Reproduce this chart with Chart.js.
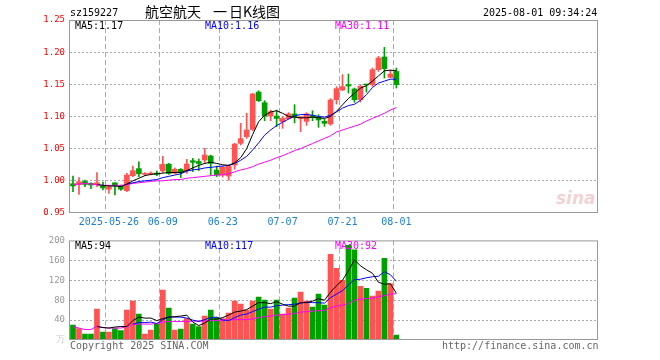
<!DOCTYPE html>
<html><head><meta charset="utf-8">
<script src="https://cdn.jsdelivr.net/npm/chart.js@4.4.1/dist/chart.umd.min.js"></script>
<style>
body{margin:0;background:#fff;}
#wrap{position:relative;width:660px;height:360px;overflow:hidden;background:#fff;}
canvas{position:absolute;left:0;}
.t{position:absolute;font-family:'DejaVu Sans Mono',monospace;font-size:10px;line-height:10px;white-space:pre;}
.cjk{position:absolute;font-family:'Noto Sans CJK SC',sans-serif;font-size:14px;line-height:14px;white-space:pre;color:#000;}
.logo{position:absolute;font-family:'DejaVu Sans',sans-serif;font-style:italic;font-weight:bold;font-size:17px;line-height:17px;color:#f2d2d2;}
</style></head><body>
<div id="wrap">
<canvas id="kc" width="660" height="230" style="top:0"></canvas>
<canvas id="vc" width="660" height="130" style="top:230px"></canvas>
<div class="t" style="left:70px;top:8px;color:#000">sz159227</div>
<div class="cjk" style="left:145px;top:4px">航空航天</div>
<div class="cjk" style="left:213px;top:4px">一</div>
<div class="cjk" style="left:229px;top:4px">日K线图</div>
<div class="t" style="left:483px;top:8px;color:#000">2025-08-01 09:34:24</div>
<div class="t" style="left:75px;top:21px;color:#000">MA5:1.17</div>
<div class="t" style="left:205px;top:21px;color:#0000ff">MA10:1.16</div>
<div class="t" style="left:335px;top:21px;color:#ff00ff">MA30:1.11</div>
<div class="logo" style="left:556px;top:190px">sina</div>
<div class="t" style="left:75px;top:241px;color:#000">MA5:94</div>
<div class="t" style="left:205px;top:241px;color:#0000ff">MA10:117</div>
<div class="t" style="left:335px;top:241px;color:#ff00ff">MA30:92</div>
<div class="t" style="left:70px;top:341px;color:#666">Copyright 2025 SINA.COM</div>
<div class="t" style="left:442px;top:341px;color:#666">http://finance.sina.com.cn</div>
</div>
<script>
const dates = ['05-16','05-19','05-20','05-21','05-22','05-23','05-26','05-27','05-28','05-29','05-30',
 '06-03','06-04','06-05','06-06','06-09','06-10','06-11','06-12','06-13','06-16','06-17','06-18','06-19','06-20',
 '06-23','06-24','06-25','06-26','06-27','06-30','07-01','07-02','07-03','07-04','07-07','07-08','07-09','07-10','07-11',
 '07-14','07-15','07-16','07-17','07-18','07-21','07-22','07-23','07-24','07-25','07-28','07-29','07-30','07-31','08-01'];
const tickLabels = ['2025-05-26','06-09','06-23','07-07','07-21','08-01'];
const openP  = [0.9955,0.994,0.999,0.996,0.994,0.992,0.987,0.997,0.992,0.9847,1.008,1.019,1.010,1.0105,1.012,1.0155,1.026,1.012,1.018,1.0158,
 1.0313,1.030,1.0324,1.0386,1.0168,1.009,1.0075,1.0246,1.0583,1.0686,1.08,1.138,1.1215,1.1008,1.1008,1.0919,1.0966,1.104,1.097,1.0925,
 1.1015,1.0998,1.0925,1.0884,1.1262,1.1412,1.1495,1.1428,1.1262,1.150,1.1495,1.1728,1.1925,1.1609,1.170];
const closeP = [0.992,0.9987,0.9945,0.9935,0.997,0.989,0.991,0.992,0.987,1.009,1.0158,1.011,1.0115,1.012,1.010,1.0255,1.0115,1.018,1.013,1.0262,
 1.0288,1.027,1.0401,1.0272,1.009,1.021,1.023,1.0572,1.0655,1.079,1.135,1.1246,1.1008,1.1075,1.097,1.097,1.104,1.0987,1.099,1.104,
 1.0987,1.0946,1.0894,1.1257,1.1433,1.1464,1.1474,1.1262,1.1469,1.149,1.1728,1.191,1.1744,1.1661,1.1495];
const highP  = [1.0075,1.0049,1.001,0.997,1.0127,0.998,0.993,0.997,0.9935,1.0116,1.023,1.0297,1.013,1.014,1.015,1.038,1.027,1.020,1.019,1.0334,
 1.035,1.034,1.0505,1.04,1.023,1.023,1.025,1.0583,1.0894,1.1049,1.136,1.140,1.1246,1.110,1.110,1.0997,1.106,1.1184,1.100,1.106,
 1.109,1.1029,1.0956,1.1277,1.1464,1.165,1.166,1.1443,1.1495,1.150,1.1754,1.1935,1.2075,1.1723,1.1754];
const lowP   = [0.983,0.979,0.991,0.988,0.991,0.9857,0.9805,0.978,0.985,0.983,1.0065,1.0065,1.008,1.009,1.008,1.013,1.010,1.011,1.005,1.0117,
 1.0143,1.016,1.0272,1.009,1.0065,1.006,1.001,1.018,1.0557,1.066,1.078,1.123,1.0935,1.0935,1.0842,1.0816,1.096,1.090,1.0765,1.0863,
 1.0935,1.0832,1.0847,1.0863,1.1194,1.1402,1.1365,1.122,1.1225,1.138,1.1469,1.170,1.1598,1.160,1.1443];
const ma5P  = [null,null,null,null,0.994,0.993,0.992,0.992,0.991,0.995,1.000,1.004,1.008,1.010,1.011,1.012,1.013,1.013,1.013,1.016,
 1.020,1.024,1.027,1.029,1.027,1.025,1.024,1.028,1.036,1.050,1.072,1.092,1.102,1.107,1.109,1.105,1.100,1.099,1.098,1.098,
 1.099,1.098,1.097,1.100,1.108,1.118,1.128,1.136,1.144,1.148,1.155,1.163,1.171,1.172,1.171];
const ma10P = [null,null,null,null,null,null,null,null,null,0.995,0.997,0.999,1.000,1.001,1.002,1.005,1.007,1.009,1.011,1.015,
 1.017,1.018,1.020,1.021,1.022,1.023,1.024,1.027,1.032,1.038,1.048,1.059,1.071,1.079,1.086,1.091,1.096,1.101,1.103,1.103,
 1.102,1.100,1.099,1.102,1.107,1.113,1.117,1.119,1.125,1.134,1.145,1.152,1.155,1.158,1.158];
const ma30P = [0.994,0.995,0.996,0.995,0.994,0.993,0.993,0.993,0.993,0.994,0.996,0.997,0.998,0.999,1.000,1.000,1.001,1.002,1.002,1.004,
 1.005,1.006,1.007,1.008,1.009,1.0095,1.011,1.014,1.017,1.019,1.022,1.026,1.029,1.032,1.036,1.039,1.043,1.047,1.050,1.054,
 1.058,1.062,1.066,1.070,1.076,1.079,1.082,1.085,1.088,1.093,1.097,1.101,1.105,1.110,1.114];
const volume = [30,23,12,12,62,16,16,23,19,60,78,52,12,20,32,100,64,20,22,43,32,27,48,60,45,43,54,78,72,60,78,86,80,62,80,52,64,84,96,78,
 66,92,70,172,144,120,190,181,108,104,88,98,164,113,10];
const ma5V  = [null,null,null,null,27,25,24,26,27,27,39,46,44,44,39,43,46,47,48,50,36,29,34,42,42,45,50,56,58,61,68,75,75,73,77,72,68,68,75,75,
 78,83,80,96,109,120,139,161,149,141,134,116,112,113,94];
const ma10V = [null,null,null,null,null,null,null,null,null,null,32,35,35,36,33,41,46,46,46,44,40,37,41,45,46,40,39,45,50,52,57,62,66,66,69,70,71,72,74,76,
 75,75,74,85,92,99,111,121,122,125,127,128,137,131,118];
const ma30V = [27,24,21,21,28,25,24,24,24,27,31,32,32,32,33,36,37,37,37,37,38,38,38,39,39,40,40,41,41,41,42,45,47,48,50,51,52,53,56,57,
 58,59,59,65,68,70,73,80,82,83,84,87,89,92,93];

const SLOTS = 88;
const RED = '#ff5252', GREEN = '#00a000';
const FONT = 'DejaVu Sans Mono';
const labels = Array.from({length: SLOTS}, (_, i) => i < dates.length ? dates[i] : '');
const tickText = i => {
  if (i >= dates.length) return '';
  const t = tickLabels.find(s => s.endsWith(dates[i]));
  return t || '';
};
const upColor = ctx => closeP[ctx.dataIndex] >= openP[ctx.dataIndex] ? RED : GREEN;
const bodies = openP.map((o, i) => [o, closeP[i]]);
const wicks = lowP.map((l, i) => [l, highP[i]]);

const framePlugin = {
  id: 'frame',
  afterDraw(chart) {
    const a = chart.chartArea, c = chart.ctx;
    c.save();
    c.strokeStyle = '#999'; c.lineWidth = 1;
    c.strokeRect(a.left - 0.5, a.top + 0.5, a.right - a.left + 1, a.bottom - a.top - 1);
    c.restore();
  }
};
const vGrid = ctx => (tickText(ctx.index) ? '#aaa' : 'rgba(0,0,0,0)');
const lineDs = (data, color) => ({type: 'line', data, borderColor: color, borderWidth: 1, pointRadius: 0, tension: 0, order: 0, spanGaps: false});

Chart.defaults.animation = false;

new Chart(document.getElementById('kc'), {
  type: 'bar',
  data: {
    labels,
    datasets: [
      lineDs(ma5P, '#000000'), lineDs(ma10P, '#0000ff'), lineDs(ma30P, '#ff00ff'),
      {type: 'bar', data: bodies, backgroundColor: upColor, barThickness: 5, grouped: false, minBarLength: 1, order: 1, borderWidth: 0},
      {type: 'bar', data: wicks, backgroundColor: upColor, barThickness: 1, grouped: false, minBarLength: 1, order: 2, borderWidth: 0}
    ]
  },
  options: {
    responsive: false, animation: false, devicePixelRatio: 1,
    layout: {padding: {left: 0, right: 63, top: 20, bottom: 0}},
    plugins: {legend: {display: false}, tooltip: {enabled: false}},
    scales: {
      x: {
        offset: true,
        grid: {offset: true, drawTicks: false, color: vGrid},
        border: {display: false, dash: [5, 3]},
        ticks: {autoSkip: false, maxRotation: 0, minRotation: 0, padding: 3, color: '#1b7fd4',
          font: {family: FONT, size: 10}, callback: (v, i) => tickText(i)},
        afterFit: s => { s.height = 17; }
      },
      y: {
        min: 0.95, max: 1.25,
        grid: {drawTicks: false, color: ctx => (ctx.index === 0 || ctx.index === 6) ? 'rgba(0,0,0,0)' : '#aaa'},
        border: {display: false, dash: [2, 2]},
        ticks: {stepSize: 0.05, padding: 5, color: '#ff0000', font: {family: FONT, size: 9}, callback: v => v.toFixed(2)},
        afterFit: s => { s.width = 70; }
      }
    }
  },
  plugins: [framePlugin]
});

new Chart(document.getElementById('vc'), {
  type: 'bar',
  data: {
    labels,
    datasets: [
      lineDs(ma5V, '#000000'), lineDs(ma10V, '#0000ff'), lineDs(ma30V, '#ff00ff'),
      {type: 'bar', data: volume, backgroundColor: upColor, barThickness: 5, grouped: false, order: 1, borderWidth: 0}
    ]
  },
  options: {
    responsive: false, animation: false, devicePixelRatio: 1,
    layout: {padding: {left: 0, right: 63, top: 10, bottom: 0}},
    plugins: {legend: {display: false}, tooltip: {enabled: false}},
    scales: {
      x: {
        offset: true,
        grid: {offset: true, drawTicks: false, color: vGrid},
        border: {display: false, dash: [5, 3]},
        ticks: {display: false, autoSkip: false},
        afterFit: s => { s.height = 20; }
      },
      y: {
        min: 0, max: 200,
        grid: {drawTicks: false, color: ctx => (ctx.index === 0 || ctx.index === 5) ? 'rgba(0,0,0,0)' : '#aaa'},
        border: {display: false, dash: [2, 2]},
        ticks: {stepSize: 40, padding: 5, font: {family: FONT, size: 9},
          color: ctx => ctx.tick && ctx.tick.value === 0 ? '#cccccc' : '#999999',
          callback: v => v === 0 ? '万' : String(v)},
        afterFit: s => { s.width = 70; }
      }
    }
  },
  plugins: [framePlugin]
});
</script>
</body></html>
